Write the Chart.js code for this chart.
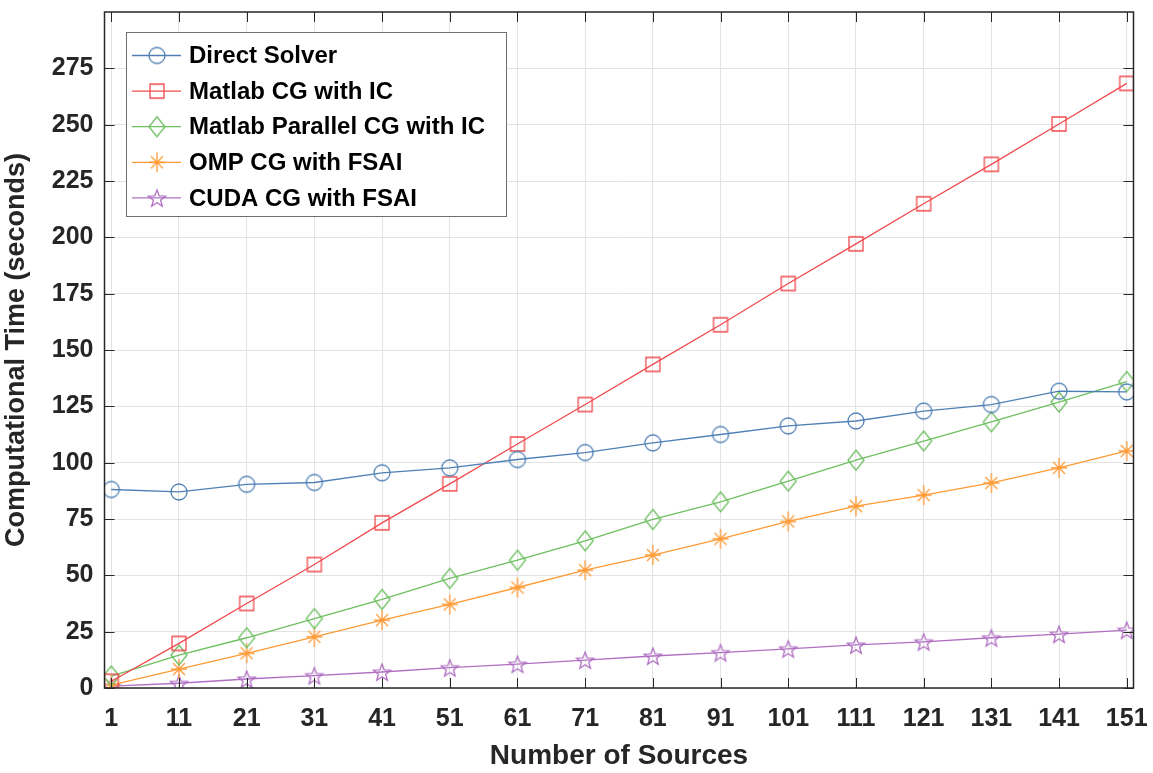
<!DOCTYPE html>
<html>
<head>
<meta charset="utf-8">
<script src="https://cdn.jsdelivr.net/npm/chart.js@4/dist/chart.umd.min.js"></script>
<style>
  html, body { margin: 0; padding: 0; background: #fff; }
  canvas { display: block; }
</style>
</head>
<body>
<canvas id="timeChart" width="1153" height="773"></canvas>
<script>
// Data
const sources = [1, 11, 21, 31, 41, 51, 61, 71, 81, 91, 101, 111, 121, 131, 141, 151];
const directSolver = [88.1, 87.0, 90.4, 91.2, 95.5, 97.7, 101.4, 104.5, 108.8, 112.5, 116.3, 118.5, 122.9, 125.8, 131.7, 131.4];
const matlabCG = [3.0, 19.8, 37.5, 54.8, 73.3, 90.6, 108.3, 125.8, 143.6, 161.2, 179.5, 197.1, 214.9, 232.4, 250.3, 268.3];
const matlabParallelCG = [5.3, 14.6, 22.3, 30.8, 39.3, 48.6, 56.7, 65.3, 74.8, 82.6, 91.8, 101.1, 109.6, 118.1, 126.9, 136.0];
const ompCG = [1.3, 8.4, 15.4, 22.7, 30.1, 37.1, 44.6, 52.3, 59.0, 66.2, 73.9, 80.7, 85.6, 91.0, 97.7, 105.2];
const cudaCG = [0.8, 2.1, 4.0, 5.5, 7.1, 9.0, 10.6, 12.4, 14.2, 15.7, 17.4, 19.1, 20.5, 22.3, 23.9, 25.7];
const yTicks = [0, 25, 50, 75, 100, 125, 150, 175, 200, 225, 250, 275];

const FONT = "'Liberation Sans', Arial, Helvetica, sans-serif";
const AXIS_COLOR = "#262626";

// open marker glyphs drawn on small canvases
function marker(w, h, color, draw) {
  const c = document.createElement("canvas");
  c.width = w;
  c.height = h;
  const g = c.getContext("2d");
  g.strokeStyle = color;
  g.lineWidth = 1.3;
  g.beginPath();
  draw(g, w / 2, h / 2);
  g.stroke();
  return c;
}

const shapes = {
  circle: (g, cx, cy) => g.arc(cx, cy, 8, 0, Math.PI * 2),
  square: (g, cx, cy) => g.rect(cx - 7, cy - 7, 14, 14),
  diamond: (g, cx, cy) => {
    g.moveTo(cx, cy - 10); g.lineTo(cx + 8, cy); g.lineTo(cx, cy + 10); g.lineTo(cx - 8, cy); g.closePath();
  },
  asterisk: (g, cx, cy) => {
    g.moveTo(cx, cy - 10); g.lineTo(cx, cy + 10);
    g.moveTo(cx - 8, cy); g.lineTo(cx + 8, cy);
    g.moveTo(cx - 6, cy - 6); g.lineTo(cx + 6, cy + 6);
    g.moveTo(cx + 6, cy - 6); g.lineTo(cx - 6, cy + 6);
  },
  star: (g, cx, cy) => {
    for (let i = 0; i < 10; i++) {
      const r = i % 2 === 0 ? 9 : 3.8;
      const a = -Math.PI / 2 + i * Math.PI / 5;
      const px = cx + r * Math.cos(a), py = cy + r * Math.sin(a) + 1;
      if (i === 0) g.moveTo(px, py); else g.lineTo(px, py);
    }
    g.closePath();
  }
};

const series = [
  { label: "Direct Solver", values: directSolver, color: "#4f80b5", shape: "circle" },
  { label: "Matlab CG with IC", values: matlabCG, color: "#f04a4e", shape: "square" },
  { label: "Matlab Parallel CG with IC", values: matlabParallelCG, color: "#6dbf60", shape: "diamond" },
  { label: "OMP CG with FSAI", values: ompCG, color: "#ff9b36", shape: "asterisk" },
  { label: "CUDA CG with FSAI", values: cudaCG, color: "#b06fc2", shape: "star" }
];
series.forEach(s => { s.glyph = marker(22, 24, s.color, shapes[s.shape]); });

// axes box, inward ticks and legend
const frame = {
  id: "frame",
  afterDraw(chart) {
    const { ctx, chartArea: a, scales: { x, y } } = chart;
    ctx.save();
    ctx.strokeStyle = AXIS_COLOR;
    ctx.lineWidth = 1;
    ctx.beginPath();
    sources.forEach(v => {
      const px = Math.round(x.getPixelForValue(v)) + 0.5;
      ctx.moveTo(px, a.bottom); ctx.lineTo(px, a.bottom - 10);
      ctx.moveTo(px, a.top); ctx.lineTo(px, a.top + 10);
    });
    yTicks.forEach(v => {
      const py = Math.round(y.getPixelForValue(v)) + 0.5;
      ctx.moveTo(a.left, py); ctx.lineTo(a.left + 10, py);
      ctx.moveTo(a.right, py); ctx.lineTo(a.right - 10, py);
    });
    ctx.stroke();
    ctx.lineWidth = 1.5;
    ctx.strokeRect(a.left, a.top, a.right - a.left, a.bottom - a.top);

    // legend
    const lx = 126.5, ly = 32.5, lw = 380, lh = 184;
    ctx.fillStyle = "#fff";
    ctx.fillRect(lx, ly, lw, lh);
    ctx.strokeStyle = "#6e6e6e";
    ctx.lineWidth = 1;
    ctx.strokeRect(lx, ly, lw, lh);
    ctx.font = "bold 24px " + FONT;
    ctx.textBaseline = "middle";
    series.forEach((s, i) => {
      const cy = 55.5 + i * 35.6;
      ctx.strokeStyle = s.color;
      ctx.lineWidth = 1.3;
      ctx.beginPath();
      ctx.moveTo(132, cy); ctx.lineTo(181, cy);
      ctx.stroke();
      ctx.drawImage(s.glyph, 157 - s.glyph.width / 2, cy - s.glyph.height / 2);
      ctx.fillStyle = "#000";
      ctx.fillText(s.label, 189, cy + 1);
    });
    ctx.restore();
  }
};

new Chart(document.getElementById("timeChart"), {
  type: "line",
  data: {
    datasets: series.map(s => ({
      label: s.label,
      data: sources.map((v, i) => ({ x: v, y: s.values[i] })),
      borderColor: s.color,
      borderWidth: 1.3,
      pointStyle: s.glyph,
      pointRadius: 8,
      pointBackgroundColor: "rgba(0,0,0,0)",
      fill: false,
      tension: 0,
      clip: 0
    }))
  },
  options: {
    responsive: false,
    animation: false,
    layout: { padding: { top: 12, right: 19.5, left: 0, bottom: 0 } },
    plugins: { legend: { display: false }, tooltip: { enabled: false } },
    scales: {
      x: {
        type: "linear",
        min: 0,
        max: 152,
        afterBuildTicks: scale => { scale.ticks = sources.map(v => ({ value: v })); },
        afterFit: scale => { scale.height = 85; scale.paddingLeft = 0; scale.paddingRight = 0; },
        grid: { color: "#e3e3e3", drawTicks: false },
        border: { display: false },
        ticks: { color: AXIS_COLOR, padding: 16, maxRotation: 0, font: { family: FONT, size: 25, weight: "bold" } },
        title: { display: true, text: "Number of Sources", color: AXIS_COLOR, padding: { top: 2, bottom: 0 }, font: { family: FONT, size: 28, weight: "bold" } }
      },
      y: {
        min: 0,
        max: 300,
        afterBuildTicks: scale => { scale.ticks = yTicks.map(v => ({ value: v })); },
        afterFit: scale => { scale.width = 104.5; scale.paddingTop = 0; scale.paddingBottom = 0; },
        grid: { color: "#e3e3e3", drawTicks: false },
        border: { display: false },
        ticks: { color: AXIS_COLOR, padding: 11, font: { family: FONT, size: 25, weight: "bold" } },
        title: { display: true, text: "Computational Time (seconds)", color: AXIS_COLOR, padding: { top: 0, bottom: 4 }, font: { family: FONT, size: 27, weight: "bold" } }
      }
    }
  },
  plugins: [frame]
});
</script>
</body>
</html>
